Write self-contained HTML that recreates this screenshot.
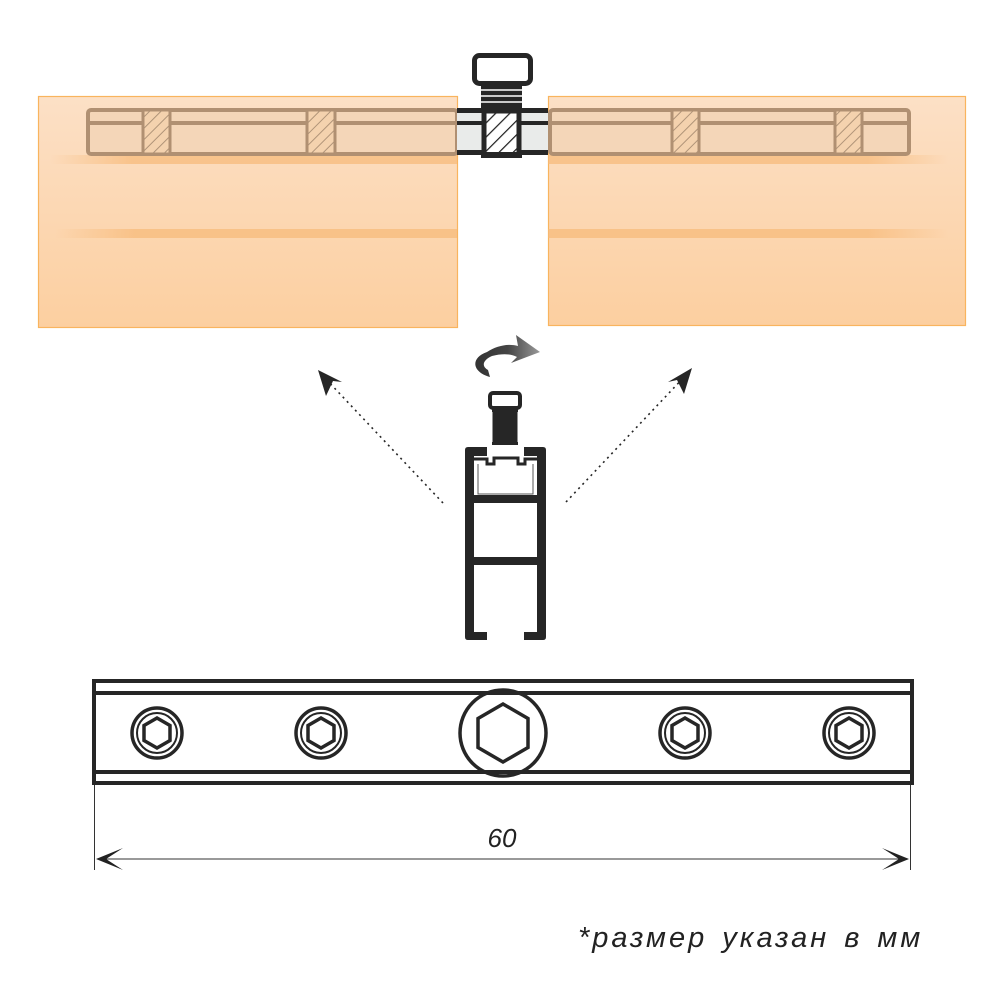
<!DOCTYPE html>
<html><head><meta charset="utf-8"><style>
html,body{margin:0;padding:0;background:#fff;width:1000px;height:1000px;overflow:hidden}
svg{display:block}
</style></head><body>
<svg width="1000" height="1000" viewBox="0 0 1000 1000" xmlns="http://www.w3.org/2000/svg">
<defs>
<linearGradient id="pg" x1="0" y1="0" x2="0" y2="1">
<stop offset="0" stop-color="#fce0c6"/><stop offset="1" stop-color="#fccfa0"/>
</linearGradient>
<linearGradient id="stL" x1="0" y1="0" x2="1" y2="0">
<stop offset="0" stop-color="#f7b977" stop-opacity="0"/><stop offset="0.2" stop-color="#f7b977" stop-opacity="0.7"/><stop offset="1" stop-color="#f7b977" stop-opacity="0.7"/>
</linearGradient>
<linearGradient id="stR" x1="0" y1="0" x2="1" y2="0">
<stop offset="0" stop-color="#f7b977" stop-opacity="0.7"/><stop offset="0.8" stop-color="#f7b977" stop-opacity="0.7"/><stop offset="1" stop-color="#f7b977" stop-opacity="0"/>
</linearGradient>
<pattern id="hatchB" width="8" height="8" patternUnits="userSpaceOnUse" patternTransform="rotate(45)">
<rect width="8" height="8" fill="#f4d2ae"/><line x1="0" y1="0" x2="0" y2="8" stroke="#b09478" stroke-width="2"/>
</pattern>
<pattern id="hatchK" width="10" height="10" patternUnits="userSpaceOnUse" patternTransform="rotate(45)">
<rect width="10" height="10" fill="#fff"/><line x1="0" y1="0" x2="0" y2="10" stroke="#222" stroke-width="2.5"/>
</pattern>
<linearGradient id="arr" x1="0" y1="0" x2="1" y2="0">
<stop offset="0" stop-color="#333"/><stop offset="0.5" stop-color="#444"/><stop offset="1" stop-color="#999"/>
</linearGradient>
</defs>

<rect x="38.5" y="96.5" width="419" height="231" fill="url(#pg)" stroke="#f9b45e" stroke-width="1.2"/>
<rect x="548.5" y="96.5" width="417" height="229" fill="url(#pg)" stroke="#f9b45e" stroke-width="1.2"/>
<rect x="50" y="155" width="407" height="9" fill="url(#stL)"/>
<rect x="55" y="229" width="402" height="9" fill="url(#stL)"/>
<rect x="548" y="155" width="400" height="9" fill="url(#stR)"/>
<rect x="548" y="229" width="400" height="9" fill="url(#stR)"/>

<g stroke="#b09072" stroke-width="4" fill="none">
<rect x="88" y="110" width="369" height="44" rx="3" fill="#f4d6b8"/>
<rect x="550" y="110" width="359" height="44" rx="3" fill="#f4d6b8"/>
<line x1="88" y1="123" x2="457" y2="123"/>
<line x1="550" y1="123" x2="909" y2="123"/>
</g>
<g stroke="#b09072" stroke-width="3">
<rect x="143" y="110" width="27" height="44" fill="url(#hatchB)"/>
<rect x="307" y="110" width="28" height="44" fill="url(#hatchB)"/>
<rect x="672" y="110" width="27" height="44" fill="url(#hatchB)"/>
<rect x="835" y="110" width="27" height="44" fill="url(#hatchB)"/>
</g>

<rect x="457" y="110" width="91" height="44" fill="#e9ebea"/>
<rect x="457" y="108" width="91" height="5" fill="#262626"/>
<rect x="457" y="121" width="91" height="4" fill="#262626"/>
<rect x="457" y="150" width="91" height="5" fill="#262626"/>
<rect x="474.5" y="55.5" width="56" height="28" rx="5" fill="#fff" stroke="#262626" stroke-width="5"/>
<rect x="481" y="84" width="41" height="26" fill="#262626"/>
<g stroke="#fff" stroke-width="1.5">
<line x1="479" y1="90" x2="524" y2="90"/><line x1="479" y1="96" x2="524" y2="96"/><line x1="479" y1="102" x2="524" y2="102"/>
</g>
<rect x="484" y="111" width="35" height="44" fill="url(#hatchK)" stroke="#262626" stroke-width="5"/>
<rect x="481" y="152" width="41" height="6" fill="#262626"/>

<path d="M487 352 C470 358 472 372 490 377 L488 370 C481 366 483 360 492 356 C503 353 512 354 517 357 L511 363 L540 352 L516 335 L518 346 C508 343 496 346 487 352 Z" fill="url(#arr)"/>

<rect x="490" y="393" width="30" height="15" rx="3" fill="#fff" stroke="#262626" stroke-width="4"/>
<rect x="492" y="409" width="26" height="36" fill="#262626"/>
<g stroke="#fff" stroke-width="1"><line x1="492" y1="412" x2="492" y2="442"/><line x1="518" y1="412" x2="518" y2="442"/></g>

<path d="M465 450 Q465 447 468 447 L487 447 L487 456 L474 456 L474 632 L487 632 L487 640 L468 640 Q465 640 465 637 Z" fill="#262626"/>
<path d="M546 450 Q546 447 543 447 L524 447 L524 456 L537 456 L537 632 L524 632 L524 640 L543 640 Q546 640 546 637 Z" fill="#262626"/>
<rect x="474" y="495" width="63" height="8" fill="#262626"/>
<rect x="474" y="557" width="63" height="8" fill="#262626"/>
<path d="M474 459 L487 459 L487 464 L494 464 L494 458 L518 458 L518 464 L525 464 L525 459 L537 459" fill="none" stroke="#262626" stroke-width="3"/>
<path d="M478 464 L478 494 L533 494 L533 464" fill="none" stroke="#555" stroke-width="1"/>

<g stroke="#262626" stroke-width="1.6" stroke-dasharray="2 4" fill="none">
<line x1="443" y1="503" x2="324" y2="377"/>
<line x1="566" y1="502" x2="686" y2="375"/>
</g>
<path d="M318 370 L342 382 L333 381 L326 396 Z" fill="#262626"/>
<path d="M692 368 L684 394 L677 380 L668 382 Z" fill="#262626"/>

<g stroke="#262626" stroke-width="4" fill="none">
<rect x="94" y="681" width="818" height="102"/>
<line x1="94" y1="693" x2="912" y2="693"/>
<line x1="94" y1="772" x2="912" y2="772"/>
</g>
<g stroke="#262626" fill="none">
<g stroke-width="3.5">
<circle cx="157" cy="733" r="25"/><circle cx="321" cy="733" r="25"/><circle cx="685" cy="733" r="25"/><circle cx="849" cy="733" r="25"/>
<circle cx="503" cy="733" r="43"/>
</g>
<g stroke-width="2">
<circle cx="157" cy="733" r="20"/><circle cx="321" cy="733" r="20"/><circle cx="685" cy="733" r="20"/><circle cx="849" cy="733" r="20"/>
</g>
<g stroke-width="3.5">
<polygon points="157,718 170,725.5 170,740.5 157,748 144,740.5 144,725.5"/>
<polygon points="321,718 334,725.5 334,740.5 321,748 308,740.5 308,725.5"/>
<polygon points="685,718 698,725.5 698,740.5 685,748 672,740.5 672,725.5"/>
<polygon points="849,718 862,725.5 862,740.5 849,748 836,740.5 836,725.5"/>
<polygon points="503,704 528,718.5 528,747.5 503,762 478,747.5 478,718.5"/>
</g>
</g>

<g stroke="#333" stroke-width="1">
<line x1="94.5" y1="785" x2="94.5" y2="870"/>
<line x1="910.5" y1="785" x2="910.5" y2="870"/>
<line x1="97" y1="859" x2="908" y2="859"/>
</g>
<path d="M96 859 L123 848 L106 859 L123 870 Z" fill="#222"/>
<path d="M909 859 L882 848 L899 859 L882 870 Z" fill="#222"/>
<text x="502" y="847" font-family="Liberation Sans, sans-serif" font-size="26" font-style="italic" fill="#222" text-anchor="middle">60</text>

<text x="578" y="947" font-family="Liberation Sans, sans-serif" font-size="29" font-style="italic" fill="#222" letter-spacing="3" word-spacing="4">*размер указан в мм</text>
</svg>
</body></html>
